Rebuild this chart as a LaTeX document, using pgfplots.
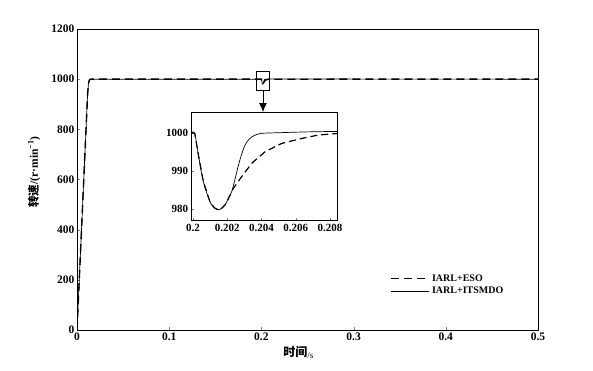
\documentclass[border=0pt]{standalone}
\usepackage{pgfplots}
\pgfplotsset{compat=1.18}
\usepackage{fontspec}
\setmainfont{Liberation Serif}
\newfontfamily\cjk{Noto Sans CJK SC}
\usetikzlibrary{arrows.meta}
\pgfplotsset{/pgf/number format/assume math mode=true, /pgf/number format/1000 sep={}}
\begin{document}
\begin{tikzpicture}
\path[use as bounding box] (-77pt,-41pt) rectangle (516pt,330pt);
\begin{axis}[
  at={(0pt,0pt)}, anchor=south west,
  scale only axis, width=461pt, height=301pt,
  xmin=0, xmax=0.5, ymin=0, ymax=1200,
  xtick={0,0.1,0.2,0.3,0.4,0.5},
  xticklabels={0,0.1,0.2,0.3,0.4,0.5},
  ytick={0,200,400,600,800,1000,1200},
  yticklabels={0,200,400,600,800,1000,1200},
  tick pos=left, tick align=inside,
  major tick length=3pt,
  axis line style={line width=0.8pt},
  ticklabel style={font=\fontsize{11.5}{12}\selectfont\bfseries},
  xticklabel style={yshift=1pt},
  yticklabel style={xshift=1pt},
  xlabel={{\cjk\bfseries 时间}\raisebox{-2pt}{\fontsize{9}{10}\selectfont /s}},
  xlabel style={at={(axis description cs:0.48,-0.076)}, anchor=center, font=\fontsize{12}{13}\selectfont},
  ylabel={{\cjk\bfseries 转速}\bfseries/(r·min\textsuperscript{−1})},
  ylabel style={at={(axis description cs:-0.093,0.525)}, anchor=center, font=\fontsize{11.5}{13}\selectfont},
  legend style={draw=none, fill=none, at={(axis description cs:0.68,0.15)}, anchor=west,
    font=\fontsize{10}{11}\selectfont\bfseries, inner xsep=0pt, inner ysep=0pt, row sep=0pt,
    legend cell align=left},
  legend image code/.code={\draw[#1] (0pt,0pt) -- (38pt,0pt);},
  legend cell align=left,
]
\addplot[black, line width=1.4pt, dash pattern=on 8pt off 5pt] coordinates {
(0,0) (0.0115,940) (0.0125,985) (0.0135,997) (0.015,1000) (0.19992,1000)
(0.2001,999.8) (0.20031,994.2) (0.2006,987.2) (0.20099,981.9) (0.20125,980.3)
(0.20148,979.8) (0.2017,980.3) (0.20187,981.1) (0.20205,982.6) (0.20226,984.6)
(0.20235,985.4) (0.20284,988.5) (0.20343,992.0) (0.2042,995.0) (0.20518,997.2)
(0.20635,998.5) (0.20732,999.4) (0.20845,999.8) (0.5,1000)};
\addlegendentry{IARL+ESO}
\addplot[black, line width=0.7pt] coordinates {
(0,0) (0.0115,940) (0.0125,985) (0.0135,997) (0.015,1000) (0.19992,1000)
(0.2001,999.8) (0.20031,994.2) (0.2006,987.2) (0.20099,981.9) (0.20125,980.3)
(0.20148,979.8) (0.2017,980.3) (0.20187,981.1) (0.20205,982.6) (0.20226,984.6)
(0.20245,987.8) (0.20265,991.5) (0.20285,994.5) (0.20304,996.8) (0.20325,998.2)
(0.20343,998.9) (0.20375,999.6) (0.20401,999.85) (0.2050,1000.0) (0.2065,1000.2)
(0.20845,1000.35) (0.5,1000)};
\addlegendentry{IARL+ITSMDO}
\draw[line width=0.7pt] (axis cs:0.1941,1032.7) rectangle (axis cs:0.2086,957);
\draw[line width=0.8pt, -{Latex[length=9pt,width=8pt]}] (axis cs:0.2017,957) -- (axis cs:0.2017,869);
\end{axis}
\begin{axis}[
  at={(114.7pt,109.5pt)}, anchor=south west,
  scale only axis, width=146pt, height=108pt,
  xmin=0.19992, xmax=0.20845, ymin=977, ymax=1005.3,
  xtick={0.2,0.202,0.204,0.206,0.208},
  xticklabels={0.2,0.202,0.204,0.206,0.208},
  ytick={980,990,1000},
  yticklabels={980,990,1000},
  tick pos=left, tick align=inside, major tick length=2pt,
  axis line style={line width=0.8pt},
  axis background/.style={fill=white},
  ticklabel style={font=\fontsize{11}{12}\selectfont\bfseries},
  scaled x ticks=false,
]
\addplot[black, line width=1.2pt, dash pattern=on 7pt off 4pt] coordinates {
(0.19992,1000)
(0.2001,999.8) (0.20031,994.2) (0.2006,987.2) (0.20099,981.9) (0.20125,980.3)
(0.20148,979.8) (0.2017,980.3) (0.20187,981.1) (0.20205,982.6) (0.20226,984.6)
(0.20235,985.4) (0.20284,988.5) (0.20343,992.0) (0.2042,995.0) (0.20518,997.2)
(0.20635,998.5) (0.20732,999.4) (0.20845,999.8)};
\addplot[black, line width=0.7pt, smooth] coordinates {
(0.19992,1000)
(0.2001,999.8) (0.20031,994.2) (0.2006,987.2) (0.20099,981.9) (0.20125,980.3)
(0.20148,979.8) (0.2017,980.3) (0.20187,981.1) (0.20205,982.6) (0.20226,984.6)
(0.20245,987.8) (0.20265,991.5) (0.20285,994.5) (0.20304,996.8) (0.20325,998.2)
(0.20343,998.9) (0.20375,999.6) (0.20401,999.85) (0.2050,1000.0) (0.2065,1000.2)
(0.20845,1000.35)};
\end{axis}
\end{tikzpicture}
\end{document}
